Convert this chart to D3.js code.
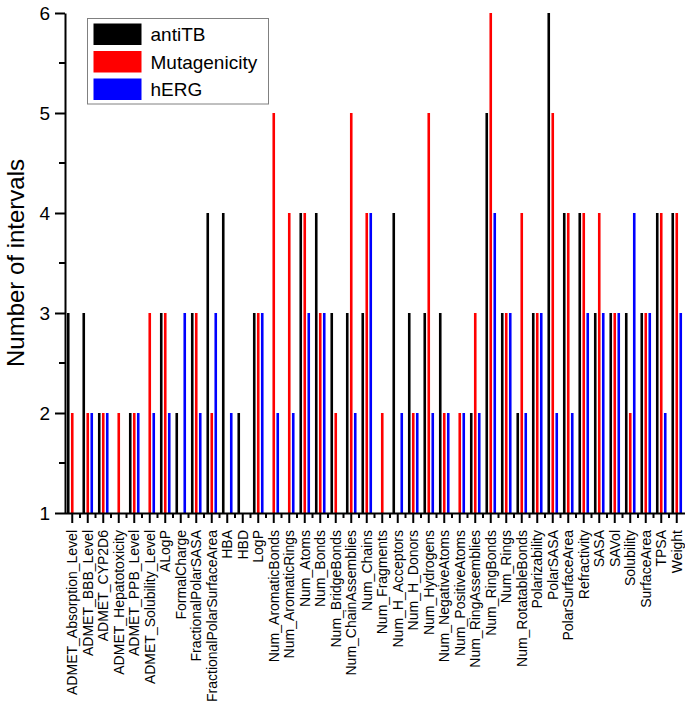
<!DOCTYPE html>
<html>
<head>
<meta charset="utf-8">
<script src="https://cdn.jsdelivr.net/npm/d3@7"></script>
<style>
  body { margin: 0; background: #fff; }
  svg { font-family: "Liberation Sans", Arial, Helvetica, sans-serif; }
  .axis path, .axis line { stroke: #000; stroke-width: 2; }
  .axis text { fill: #000; }
</style>
</head>
<body>
<svg id="chart"></svg>
<script>
const categories = [
  "ADMET_Absorption_Level", "ADMET_BBB_Level", "ADMET_CYP2D6", "ADMET_Hepatotoxicity",
  "ADMET_PPB_Level", "ADMET_Solubility_Level", "ALogP", "FormalCharge",
  "FractionalPolarSASA", "FractionalPolarSurfaceArea", "HBA", "HBD", "LogP",
  "Num_AromaticBonds", "Num_AromaticRings", "Num_Atoms", "Num_Bonds",
  "Num_BridgeBonds", "Num_ChainAssemblies", "Num_Chains", "Num_Fragments",
  "Num_H_Acceptors", "Num_H_Donors", "Num_Hydrogens", "Num_NegativeAtoms",
  "Num_PositiveAtoms", "Num_RingAssemblies", "Num_RingBonds", "Num_Rings",
  "Num_RotatableBonds", "Polarizability", "PolarSASA", "PolarSurfaceArea",
  "Refractivity", "SASA", "SAVol", "Solubility", "SurfaceArea", "TPSA", "Weight"
];

const antiTB = [3, 3, 2, 1, 2, 1, 3, 2, 3, 4, 4, 2, 3, 1, 1, 4, 4, 3, 3, 3,
                1, 4, 3, 3, 3, 1, 2, 5, 3, 2, 3, 6, 4, 4, 3, 3, 3, 3, 4, 4];
const mutagenicity = [2, 2, 2, 2, 2, 3, 3, 1, 3, 2, 1, 1, 3, 5, 4, 4, 3, 2, 5, 4,
                      2, 1, 2, 5, 2, 2, 3, 6, 3, 4, 3, 5, 4, 4, 4, 3, 2, 3, 4, 4];
const hERG = [1, 2, 2, 1, 2, 2, 2, 3, 2, 3, 2, 1, 3, 2, 2, 3, 3, 1, 2, 4,
              1, 2, 2, 2, 2, 2, 2, 4, 3, 2, 3, 2, 2, 3, 3, 3, 4, 3, 2, 3];

const seriesNames = ["antiTB", "Mutagenicity", "hERG"];
const seriesColors = ["#000000", "#ff0000", "#0000ff"];
const yTicks = [1, 2, 3, 4, 5, 6];

const width = 685, height = 702;
const margin = {top: 13, right: 0.5, bottom: 189, left: 64.5};

const svg = d3.select("#chart")
  .attr("width", width)
  .attr("height", height);

const series = seriesNames.map((name, k) => ({
  name,
  color: seriesColors[k],
  values: [antiTB, mutagenicity, hERG][k]
}));

const x = d3.scaleBand()
  .domain(categories)
  .range([margin.left, width - margin.right])
  .padding(0);

const xs = d3.scalePoint()
  .domain(seriesNames)
  .range([-4, 4]);

const y = d3.scaleLinear()
  .domain([1, 6])
  .range([height - margin.bottom, margin.top]);

const barWidth = 2.6;

// bars
series.forEach(s => {
  svg.append("g")
    .selectAll("rect")
    .data(categories)
    .join("rect")
      .attr("x", c => x(c) + x.bandwidth() / 2 + xs(s.name) - barWidth / 2)
      .attr("y", (c, i) => y(s.values[i]))
      .attr("width", barWidth)
      .attr("height", (c, i) => y(1) - y(s.values[i]))
      .attr("fill", s.color);
});

// x axis: long ticks at categories, short ticks between
const xAxis = svg.append("g")
  .classed("axis", true)
  .attr("transform", `translate(0,${y(1)})`)
  .call(d3.axisBottom(x).tickSizeOuter(0).tickSizeInner(10));

xAxis.selectAll(".tick text")
  .attr("font-size", 14)
  .attr("text-anchor", "end")
  .attr("transform", "rotate(-90)")
  .attr("x", -17)
  .attr("y", 0)
  .attr("dy", "0.36em");

xAxis.selectAll("line.minor")
  .data(categories.slice(1))
  .join("line")
    .attr("class", "minor")
    .attr("x1", c => x(c))
    .attr("x2", c => x(c))
    .attr("y1", 0)
    .attr("y2", 5);

// y axis
const yAxis = svg.append("g")
  .classed("axis", true)
  .attr("transform", `translate(${margin.left + 0.5},0)`)
  .call(d3.axisLeft(y).tickValues(yTicks).tickFormat(d3.format("d"))
    .tickSizeOuter(0).tickSizeInner(10).tickPadding(5));

yAxis.selectAll(".tick text").attr("font-size", 19);

yAxis.selectAll("line.minor")
  .data(yTicks.slice(0, -1).map(v => v + 0.5))
  .join("line")
    .attr("class", "minor")
    .attr("x1", 0)
    .attr("x2", -6)
    .attr("y1", v => y(v))
    .attr("y2", v => y(v));

svg.append("text")
  .attr("transform", `translate(16,${(y(1) + y(6)) / 2}) rotate(-90)`)
  .attr("text-anchor", "middle")
  .attr("dy", "0.35em")
  .attr("font-size", 24)
  .text("Number of intervals");

// legend
const legend = svg.append("g").attr("transform", "translate(87.5,18.5)");

legend.append("rect")
  .attr("width", 181)
  .attr("height", 85.5)
  .attr("fill", "#fff")
  .attr("stroke", "#808080")
  .attr("stroke-width", 1);

const item = legend.selectAll("g.item")
  .data(series)
  .join("g")
    .attr("class", "item")
    .attr("transform", (d, i) => `translate(6,${5 + i * 27.5})`);

item.append("rect")
  .attr("width", 48)
  .attr("height", 21.5)
  .attr("fill", d => d.color);

item.append("text")
  .attr("x", 57)
  .attr("y", 11)
  .attr("dy", "0.35em")
  .attr("font-size", 19)
  .text(d => d.name);
</script>
</body>
</html>
